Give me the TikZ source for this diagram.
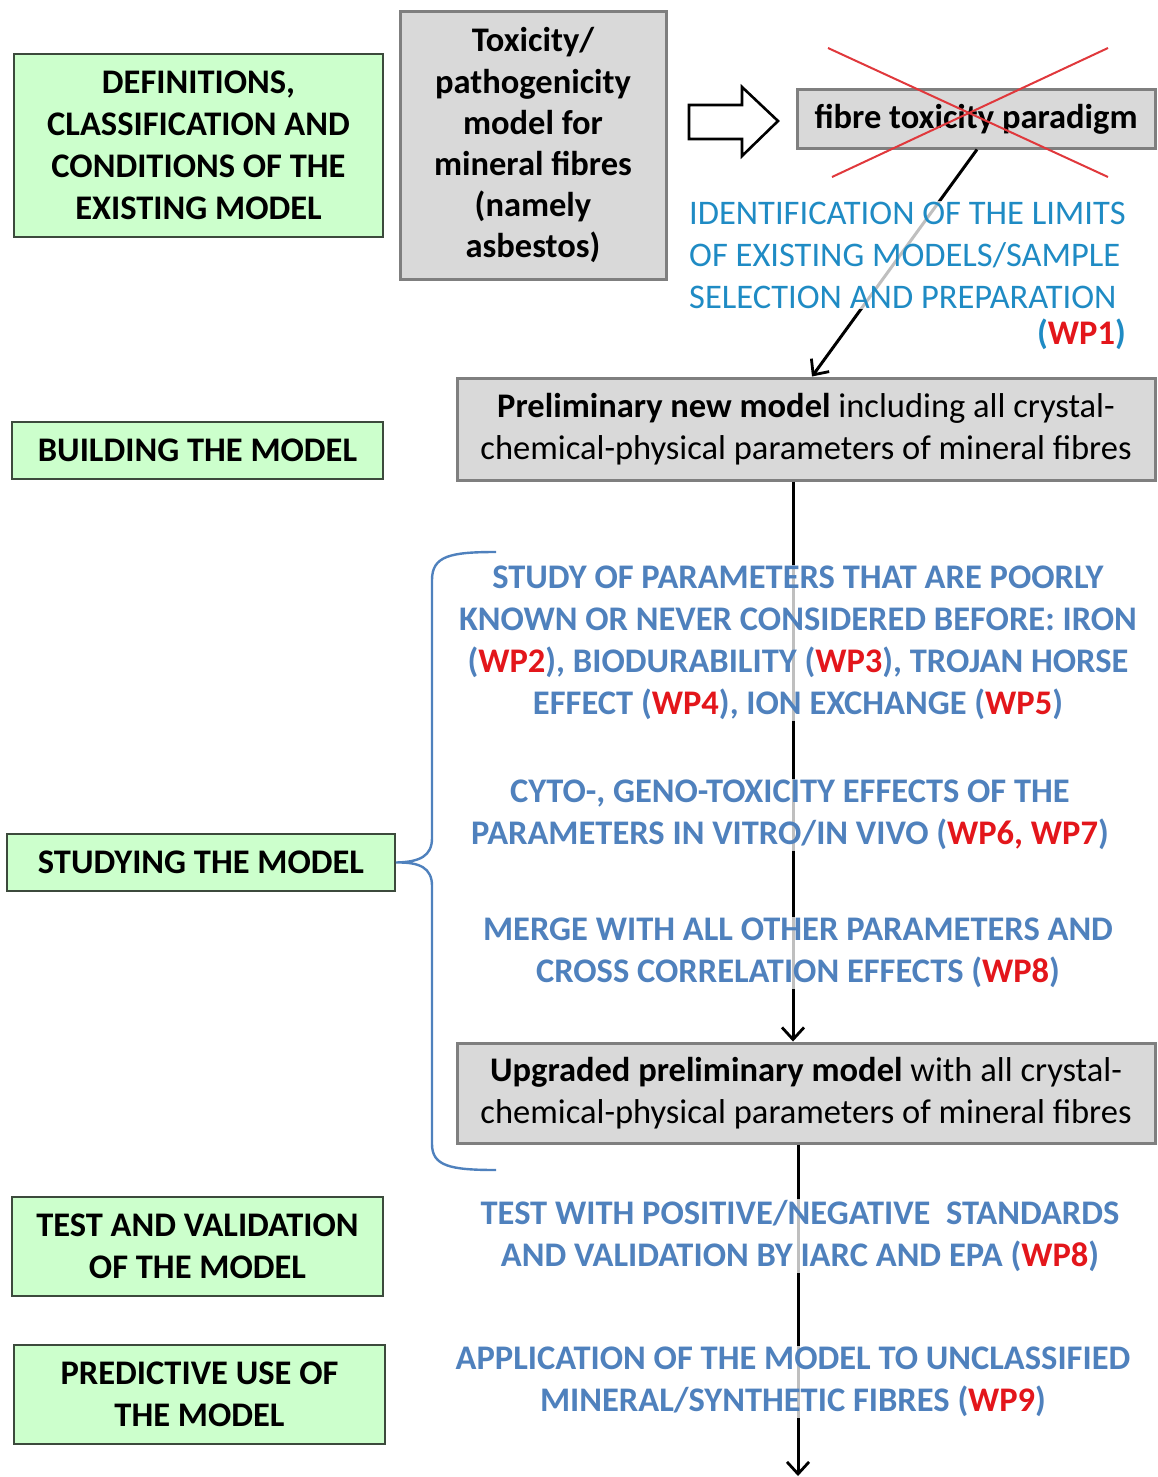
\documentclass[tikz,border=0pt]{standalone}
\usepackage{fontspec}
\setmainfont{Carlito}
\usetikzlibrary{arrows.meta,calc}
\definecolor{gfill}{HTML}{CCFFCC}
\definecolor{gline}{HTML}{3C4A3C}
\definecolor{bfill}{HTML}{D9D9D9}
\definecolor{bline}{HTML}{7F7F7F}
\definecolor{bluetx}{HTML}{4F81BD}
\definecolor{cyantx}{HTML}{1F8BC4}
\definecolor{redtx}{HTML}{E3161B}
\definecolor{crossred}{HTML}{E0383C}
\newcommand\WPr[1]{\textcolor{redtx}{#1}}
\newcommand\bigfont{\fontsize{34.5}{42}\selectfont}
\tikzset{
  greenbox/.style={draw=gline,line width=2pt,fill=gfill,align=center,inner sep=0pt,font=\bigfont\bfseries},
  graybox/.style={draw=bline,line width=3pt,fill=bfill,align=center,inner sep=0pt,font=\bigfont},
  bluetext/.style={text=bluetx,align=center,fill=white,fill opacity=0.75,text opacity=1,inner sep=1pt,font=\bigfont\bfseries},
  conn/.style={black,line width=3pt,-{Straight Barb[length=12pt,width=22pt,line width=2.8pt]}},
}
\begin{document}
\begin{tikzpicture}[x=1pt,y=-1pt]
\useasboundingbox (0,0) rectangle (1157,1477);
% left green boxes
\node[greenbox,minimum width=369,minimum height=183] (def) at (198.5,145.5)
  {DEFINITIONS,\\CLASSIFICATION AND\\CONDITIONS OF THE\\EXISTING MODEL};
\node[greenbox,minimum width=371,minimum height=57] (build) at (197.5,450.5) {BUILDING THE MODEL};
\node[greenbox,minimum width=388,minimum height=57] (study) at (201,862.5) {STUDYING THE MODEL};
\node[greenbox,minimum width=371,minimum height=99] (test) at (197.5,1246.5) {TEST AND VALIDATION\\OF THE MODEL};
\node[greenbox,minimum width=371,minimum height=99] (pred) at (199.5,1394.5) {PREDICTIVE USE OF\\THE MODEL};
% gray boxes
\node[graybox,minimum width=266,minimum height=267,font=\fontsize{34.5}{41.2}\selectfont\bfseries] (tox) at (533,145.5)
  {Toxicity/\\pathogenicity\\model for\\mineral fibres\\(namely\\asbestos)};
% hollow block arrow
\draw[black,line width=2.6pt,fill=white,line join=miter]
  (689,105) -- (742,105) -- (742,87) -- (778,121) -- (742,156) -- (742,139) -- (689,139) -- cycle;
\node[graybox,minimum width=358,minimum height=58,font=\bigfont\bfseries] (fibre) at (976,119) {fibre toxicity paradigm};
\node[graybox,minimum width=698,minimum height=102] (prelim) at (806,429)
  {\textbf{Preliminary new model} including all crystal-\\chemical-physical parameters of mineral fibres};
\node[graybox,minimum width=698,minimum height=100] (upg) at (806,1093)
  {\textbf{Upgraded preliminary model} with all crystal-\\chemical-physical parameters of mineral fibres};
% red cross
\draw[crossred,line width=2pt] (828,48) -- (1108,177);
\draw[crossred,line width=2pt] (1108,48) -- (832,177);
% connectors
\draw[conn] ($(fibre.south)+(1,0)$) -- ($(prelim.north)+(6,0)$);
\draw[conn] ($(prelim.south)+(-13,0)$) -- ($(upg.north)+(-13,0)$);
\coordinate (bottom) at (798,1476);
\draw[conn] ($(upg.south)+(-8,0)$) -- (bottom);
% brace
\draw[bluetx,line width=2.4pt] (496,552) .. controls (450,552) and (432,556) .. (432,580)
  -- (432,838) .. controls (432,856) and (420,862) .. (study.east)
  .. controls (420,862) and (432,868) .. (432,886)
  -- (432,1144) .. controls (432,1166) and (450,1170) .. (496,1170);
% texts
\node[bluetext,text=cyantx,font=\bigfont,align=left,anchor=west] (ident) at (688,255)
  {IDENTIFICATION OF THE LIMITS\\OF EXISTING MODELS/SAMPLE\\SELECTION AND PREPARATION};
\node[bluetext,text=cyantx,anchor=east] (wp1) at (1127,334) {(\WPr{WP1})};
\node[bluetext] (t1) at (798,643)
  {STUDY OF PARAMETERS THAT ARE POORLY\\KNOWN OR NEVER CONSIDERED BEFORE: IRON\\(\WPr{WP2}), BIODURABILITY (\WPr{WP3}), TROJAN HORSE\\EFFECT (\WPr{WP4}), ION EXCHANGE (\WPr{WP5})};
\node[bluetext] (t2) at (790,815)
  {CYTO-, GENO-TOXICITY EFFECTS OF THE\\PARAMETERS IN VITRO/IN VIVO (\WPr{WP6, WP7})};
\node[bluetext] (t3) at (798,953)
  {MERGE WITH ALL OTHER PARAMETERS AND\\CROSS CORRELATION EFFECTS (\WPr{WP8})};
\node[bluetext] (t4) at (800,1236)
  {TEST WITH POSITIVE/NEGATIVE\ \ STANDARDS\\AND VALIDATION BY IARC AND EPA (\WPr{WP8})};
\node[bluetext] (t5) at (793,1382)
  {APPLICATION OF THE MODEL TO UNCLASSIFIED\\MINERAL/SYNTHETIC FIBRES (\WPr{WP9})};
\end{tikzpicture}
\end{document}
